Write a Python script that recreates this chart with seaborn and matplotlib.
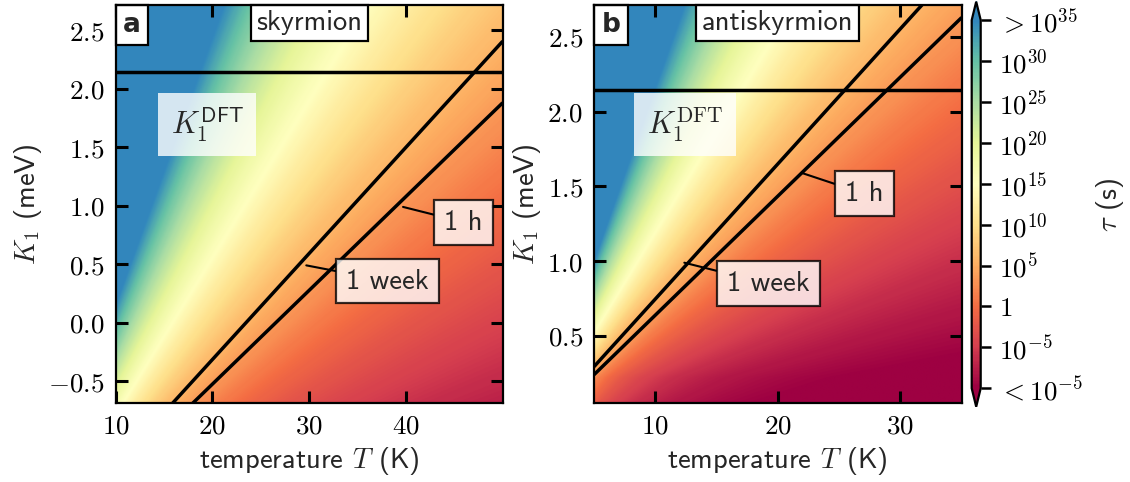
import numpy as np
import matplotlib
matplotlib.use("Agg")
import matplotlib.pyplot as plt
from matplotlib.colors import ListedColormap, Normalize
from matplotlib.offsetbox import AnchoredText
import seaborn as sns

# ---------------- data ----------------
panel_letters = ["a", "b"]
panel_titles = ["skyrmion", "antiskyrmion"]
T_range_a = [10.0, 50.0]          # K
T_range_b = [5.0, 35.0]
K1_range_a = [-0.69, 2.72]        # meV
K1_range_b = [0.05, 2.715]
K1_DFT = 2.145                    # meV

# Arrhenius parameters: tau = tau0 * exp(dE / kT)
barrier_K1_a = [-0.69, 2.72]      # meV
barrier_meV_a = [60.4, 203.4]     # meV
log10_tau0_a = -13.4
barrier_K1_b = [0.05, 0.22, 2.72]
barrier_meV_b = [11.27, 15.46, 118.0]
log10_tau0_b = -12.9

tau_levels_s = [3600.0, 604800.0]
tau_level_labels = ["1 h", "1 week"]

xticks_a = [10, 20, 30, 40]
xticks_b = [10, 20, 30]
yticks_a = [-0.5, 0.0, 0.5, 1.0, 1.5, 2.0, 2.5]
yticks_b = [0.5, 1.0, 1.5, 2.0, 2.5]
ytick_labels_a = ["-0.5", "0.0", "0.5", "1.0", "1.5", "2.0", "2.5"]
ytick_labels_b = ["0.5", "1.0", "1.5", "2.0", "2.5"]

cbar_exponents = [35, 30, 25, 20, 15, 10, 5, 0, -5, -10]
cbar_labels = [r"$>10^{35}$", r"$10^{30}$", r"$10^{25}$", r"$10^{20}$", r"$10^{15}$",
               r"$10^{10}$", r"$10^{5}$", r"$1$", r"$10^{-5}$", r"$<10^{-5}$"]

# label placements (layout)
ann_a = [((39.7, 0.99), (45.95, 0.86)), ((29.7, 0.49), (38.1, 0.356))]
ann_b = [((21.96, 1.59), (27.06, 1.451)), ((12.37, 0.99), (19.22, 0.849))]
dft_pos = [(0.236, 0.70), (0.2475, 0.70)]
dft_text = [r"$K_1^{\mathsf{DFT}}$", r"$K_1^{\mathrm{DFT}}$"]

# ---------------- style ----------------
TXT = 20.5
sns.set_style("ticks")
plt.rcParams.update({
    "font.family": ["cmss10", "DejaVu Sans"],
    "mathtext.fontset": "cm",
    "axes.unicode_minus": False,
    "font.size": TXT,
    "axes.linewidth": 1.6,
    "xtick.direction": "in",
    "ytick.direction": "in",
    "xtick.top": True,
    "ytick.right": True,
    "xtick.major.size": 8.5,
    "ytick.major.size": 8.5,
    "xtick.major.width": 2.2,
    "ytick.major.width": 2.2,
    "xtick.major.pad": 7,
    "ytick.major.pad": 8,
    "xtick.labelsize": 19.5,
    "ytick.labelsize": 19.5,
    "axes.edgecolor": "black",
    "xtick.color": "black",
    "ytick.color": "black",
})

base = sns.color_palette("Spectral", as_cmap=True)
cmap = ListedColormap(base(np.linspace(0.0, 0.9, 256)))
cmap.set_over(base(0.9))
cmap.set_under(base(0.0))
norm = Normalize(vmin=cbar_exponents[-1], vmax=cbar_exponents[0])

kB = 0.08617333  # meV/K


def log10_tau(T, K, K_nodes, E_nodes, lt0):
    E = np.interp(K, K_nodes, E_nodes)
    return lt0 + E / (kB * T * np.log(10))


W, H = 1130, 482
fig = plt.figure(figsize=(W / 100, H / 100), dpi=100)
ax_a = fig.add_axes([115.7 / W, (H - 403.3) / H, 387.0 / W, 398.6 / H])
ax_b = fig.add_axes([594.0 / W, (H - 403.3) / H, 367.7 / W, 398.6 / H])
cax = fig.add_axes([971.7 / W, (H - 406.7) / H, 9.0 / W, 405.0 / H])

panels = [
    (ax_a, T_range_a, K1_range_a, barrier_K1_a, barrier_meV_a, log10_tau0_a,
     xticks_a, yticks_a, ytick_labels_a, ann_a),
    (ax_b, T_range_b, K1_range_b, barrier_K1_b, barrier_meV_b, log10_tau0_b,
     xticks_b, yticks_b, ytick_labels_b, ann_b),
]

im = None
for i, (ax, Tr, Kr, Kn, En, lt0, xt, yt, ytl, ann) in enumerate(panels):
    T = np.linspace(Tr[0], Tr[1], 600)
    K = np.linspace(Kr[0], Kr[1], 600)
    TT, KK = np.meshgrid(T, K)
    Z = log10_tau(TT, KK, Kn, En, lt0)
    im = ax.imshow(Z, extent=[Tr[0], Tr[1], Kr[0], Kr[1]], origin="lower",
                   aspect="auto", cmap=cmap, norm=norm, interpolation="bilinear")
    ax.contour(TT, KK, Z, levels=np.log10(tau_levels_s), colors="black",
               linewidths=2.5)
    sns.lineplot(x=[Tr[0], Tr[1]], y=[K1_DFT, K1_DFT], ax=ax, color="black",
                 linewidth=2.5)
    ax.set_xlim(Tr)
    ax.set_ylim(Kr)
    ax.set_xticks(xt)
    ax.set_xticklabels([f"${v}$" for v in xt])
    ax.set_yticks(yt)
    ax.set_yticklabels([f"${s}$" for s in ytl])
    ax.set_xlabel(r"temperature $T$ (K)", labelpad=5)
    ax.set_ylabel(r"$K_1$ (meV)", labelpad=3)
    for sp in ax.spines.values():
        sp.set_linewidth(1.6)
        sp.set_zorder(5)

    at = AnchoredText(panel_letters[i], loc="upper left", pad=0.28, borderpad=0.0,
                      prop=dict(size=19, weight="bold", family="DejaVu Sans"),
                      frameon=True)
    at.patch.set_boxstyle("square,pad=0")
    at.patch.set_linewidth(1.6)
    ax.add_artist(at)
    tt = AnchoredText(panel_titles[i], loc="upper center", pad=0.2, borderpad=0.0,
                      prop=dict(size=TXT), frameon=True)
    tt.patch.set_boxstyle("square,pad=0")
    tt.patch.set_linewidth(1.6)
    ax.add_artist(tt)

    ax.text(dft_pos[i][0], dft_pos[i][1], dft_text[i], transform=ax.transAxes,
            ha="center", va="center", fontsize=22,
            bbox=dict(boxstyle="square,pad=0.4", fc="white", ec="none", alpha=0.8))

    for lab, (xy, xytext) in zip(tau_level_labels, ann):
        ax.annotate(lab, xy=xy, xytext=xytext, ha="center", va="center", fontsize=TXT,
                    bbox=dict(boxstyle="square,pad=0.35", fc="white", ec="black",
                              lw=1.6, alpha=0.8),
                    arrowprops=dict(arrowstyle="-", color="black", lw=1.5,
                                    shrinkA=0, shrinkB=0))

cbar = fig.colorbar(im, cax=cax, extend="both", ticks=cbar_exponents)
cbar.set_ticklabels(cbar_labels)
cbar.ax.tick_params(direction="out", length=7, width=1.8, labelsize=19.5, pad=6,
                    right=True, left=False)
cbar.outline.set_linewidth(1.6)
cbar.set_label(r"$\tau$ (s)", fontsize=TXT, labelpad=8)

fig.savefig("out.png", dpi=100)
